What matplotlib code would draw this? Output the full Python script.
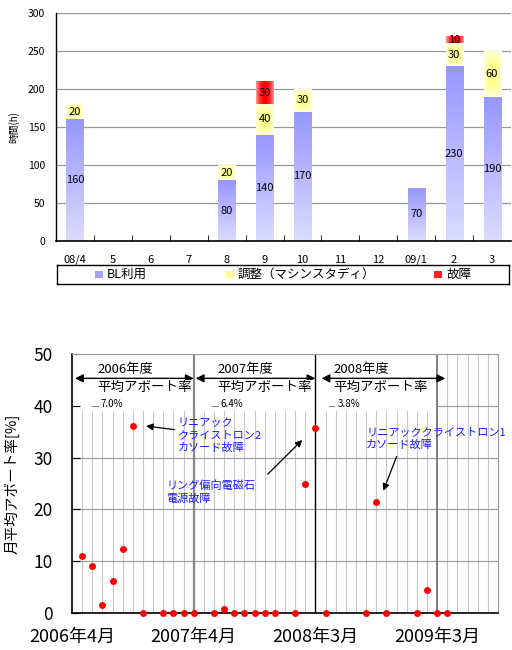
import numpy as np
import matplotlib
matplotlib.use('Agg')
import matplotlib.pyplot as plt
from matplotlib.patches import Rectangle

plt.rcParams['font.family'] = ['Noto Sans CJK JP', 'DejaVu Sans']

# ---- top chart data (hours per month) ----
months = ['08/4', '5', '6', '7', '8', '9', '10', '11', '12', '09/1', '2', '3']
bl_use = [160, 0, 0, 0, 80, 140, 170, 0, 0, 70, 230, 190]
tuning = [20, 0, 0, 0, 20, 40, 30, 0, 0, 0, 30, 60]
failure = [0, 0, 0, 0, 0, 30, 0, 0, 0, 0, 10, 0]
legend_names = ['BL利用', '調整（マシンスタディ）', '故障']

# ---- bottom chart data (monthly abort rate) ----
abort_month = [1, 2, 3, 4, 5, 6, 7, 9, 10, 11, 12, 14, 15, 16, 17, 18, 19, 20,
               22, 23, 24, 25, 29, 30, 31, 34, 35, 36, 37]
abort_rate = [11.0, 9.0, 1.5, 6.2, 12.4, 36.1, 0, 0, 0, 0, 0, 0, 0.8, 0, 0, 0, 0, 0,
              0, 25.0, 35.7, 0, 0, 21.4, 0, 0, 4.5, 0, 0]
xtick_pos = [0, 12, 24, 36]
xtick_labels = ['2006年4月', '2007年4月', '2008年3月', '2009年3月']
fy_names = ['2006年度', '2007年度', '2008年度']
fy_rates = ['7.0%', '6.4%', '3.8%']

fig = plt.figure(figsize=(5.12, 6.5), dpi=100)


def gradient_fill(ax, patch, img):
    x0, y0 = patch.get_x(), patch.get_y()
    w, h = patch.get_width(), patch.get_height()
    if h <= 0:
        return
    im = ax.imshow(img, extent=[x0, x0 + w, y0, y0 + h], aspect='auto',
                   origin='lower', zorder=2, interpolation='bilinear')
    im.set_clip_path(patch)


# gradient images
t = np.linspace(0, 1, 64)
lo = np.array([0.86, 0.86, 1.0])
hi = np.array([0.59, 0.59, 1.0])
blue_img = (lo[None, :] * (1 - t[:, None]) + hi[None, :] * t[:, None])[:, None, :]

u = np.linspace(0, 1, 40)
v = np.linspace(0, 1, 40)
fu = np.clip(np.minimum(u, 1 - u) / 0.3, 0, 1)
fv = np.clip(np.minimum(v, 1 - v) / 0.3, 0, 1)
f = 0.35 + 0.65 * (fv[:, None] * fu[None, :])
yel = np.array([1.0, 1.0, 0.55])
yellow_img = np.ones((40, 40, 3)) * (1 - f[..., None]) + yel * f[..., None]

fr = 1 - np.abs(2 * u - 1) ** 2
red_img = np.zeros((1, 40, 3))
red_img[0, :, 0] = 1.0
red_img[0, :, 1] = 0.6 * (1 - fr)
red_img[0, :, 2] = 0.6 * (1 - fr)

# ---------------- top chart ----------------
ax1 = fig.add_axes([56 / 512, 1 - 241 / 650, 455 / 512, 228 / 650])
x = np.arange(len(months))
w = 0.45
b1 = ax1.bar(x, bl_use, w, facecolor='none', edgecolor='none')
b2 = ax1.bar(x, tuning, w, bottom=bl_use, facecolor='none', edgecolor='none')
bot3 = np.array(bl_use) + np.array(tuning)
b3 = ax1.bar(x, failure, w, bottom=bot3, facecolor='none', edgecolor='none')
for p in b1:
    gradient_fill(ax1, p, blue_img)
for p in b2:
    gradient_fill(ax1, p, yellow_img)
for p in b3:
    gradient_fill(ax1, p, red_img)

for i in range(len(months)):
    segs = [(0, bl_use[i]), (bl_use[i], tuning[i]), (bot3[i], failure[i])]
    for base, val in segs:
        if val > 0:
            ax1.text(x[i], base + val / 2, str(val), ha='center', va='center',
                     fontsize=8, zorder=5)

ax1.set_xlim(-0.5, len(months) - 0.5)
ax1.set_ylim(0, 300)
ax1.set_yticks(range(0, 301, 50))
ax1.set_xticks(x)
ax1.set_xticklabels(months)
ax1.set_xticks(np.arange(0.5, len(months) - 1, 1), minor=True)
ax1.tick_params(axis='x', which='major', length=0, pad=10, labelsize=8)
ax1.tick_params(axis='x', which='minor', length=4, direction='in')
ax1.tick_params(axis='y', length=0, pad=8, labelsize=7.5)
ax1.yaxis.grid(True, color='#999999', lw=0.9)
ax1.set_axisbelow(True)
for s in ['top', 'right']:
    ax1.spines[s].set_visible(False)
ax1.spines['left'].set_linewidth(1.0)
ax1.spines['bottom'].set_linewidth(1.2)
ax1.set_ylabel('時間(h)', fontsize=7, labelpad=6)

# legend box
axl = fig.add_axes([57 / 512, 1 - 284 / 650, 452 / 512, 19 / 650])
axl.set_xlim(0, 452)
axl.set_ylim(0, 19)
axl.set_xticks([])
axl.set_yticks([])
for s in axl.spines.values():
    s.set_linewidth(1.0)
leg_colors = ['#a4a4ff', '#ffff99', '#ff2020']
leg_x = [38, 169, 377]
for lx, col, name in zip(leg_x, leg_colors, legend_names):
    axl.add_patch(Rectangle((lx, 6), 8, 7, facecolor=col, edgecolor='none'))
    axl.text(lx + 12, 9.5, name, va='center', ha='left', fontsize=9)

# ---------------- bottom chart ----------------
ax2 = fig.add_axes([72 / 512, 1 - 613 / 650, 426 / 512, 259 / 650])
ax2.set_xlim(0, 42)
ax2.set_ylim(0, 50)
for m in range(1, 42):
    ax2.axvline(m, color='#c8c8c8', lw=0.8, zorder=0.5)
for yv in [10, 20, 30, 40]:
    ax2.axhline(yv, color='#a0a0a0', lw=0.9, zorder=0.6)
# white area behind the fiscal year labels
ax2.add_patch(Rectangle((0, 38.9), 36, 11.1, facecolor='white', edgecolor='none', zorder=1))
ax2.axvline(12, color='#888888', lw=1.6, zorder=2)
ax2.axvline(24, color='black', lw=1.0, zorder=2)
ax2.axvline(36, color='#777777', lw=1.3, zorder=2)

ax2.plot(abort_month, abort_rate, 'o', color='#ff0000', ms=5, mec='none',
         zorder=6, clip_on=False)

fy_start = [0.3, 12.2, 24.6]
fy_end = [12.0, 24.0, 36.8]
fy_text_x = [2.5, 14.3, 25.8]
for i in range(3):
    ax2.annotate('', xy=(fy_start[i], 45.3), xytext=(fy_end[i], 45.3),
                 arrowprops=dict(arrowstyle='<|-|>', color='black', lw=1,
                                 mutation_scale=12, shrinkA=0, shrinkB=0), zorder=4)
    ax2.text(fy_text_x[i], 47.1, fy_names[i], fontsize=9.5, va='center', ha='left', zorder=5)
    ax2.text(fy_text_x[i], 43.6, '平均アボート率', fontsize=9.7, va='center',
             ha='left', zorder=5, bbox=dict(facecolor='white', edgecolor='none', pad=0))
    ax2.text(fy_text_x[i] + 0.35, 40.4, fy_rates[i], fontsize=7, va='center', ha='left', zorder=5)
    ax2.plot([fy_text_x[i] - 0.5, fy_text_x[i] + 0.05], [40, 40], color='#888888', lw=0.8, zorder=5)

blue = '#1a1aff'
ax2.annotate('リニアック\nクライストロン2\nカソード故障', xy=(7.3, 36.1), xytext=(10.4, 37.6),
             fontsize=8, color=blue, va='top', ha='left', linespacing=1.25,
             arrowprops=dict(arrowstyle='-|>', color='black', lw=0.9,
                             mutation_scale=10, shrinkA=0, shrinkB=0), zorder=5)
ax2.annotate('リング偏向電磁石\n電源故障', xy=(22.7, 33.4), xytext=(9.3, 25.6),
             fontsize=8, color=blue, va='top', ha='left', linespacing=1.25, zorder=5)
ax2.annotate('', xy=(22.7, 33.4), xytext=(19.3, 26.8),
             arrowprops=dict(arrowstyle='-|>', color='black', lw=0.9,
                             mutation_scale=10, shrinkA=0, shrinkB=0), zorder=5)
ax2.annotate('リニアッククライストロン1\nカソード故障', xy=(30.7, 23.6), xytext=(29.0, 35.9),
             fontsize=8, color=blue, va='top', ha='left', linespacing=1.25, zorder=5)
ax2.annotate('', xy=(30.7, 23.6), xytext=(32.0, 30.2),
             arrowprops=dict(arrowstyle='-|>', color='black', lw=0.9,
                             mutation_scale=10, shrinkA=0, shrinkB=0), zorder=5)

ax2.set_xticks(xtick_pos)
ax2.set_xticklabels(xtick_labels)
ax2.set_yticks(range(0, 51, 10))
ax2.tick_params(axis='x', length=0, pad=11, labelsize=13)
ax2.tick_params(axis='y', length=6, direction='in', pad=14, labelsize=12.5)
ax2.spines['top'].set_color('#999999')
ax2.spines['right'].set_color('#999999')
ax2.spines['left'].set_linewidth(1.2)
ax2.spines['bottom'].set_linewidth(1.2)
ax2.set_ylabel('月平均アボート率[%]', fontsize=10.5, labelpad=10)

fig.savefig('out.png', dpi=100)
